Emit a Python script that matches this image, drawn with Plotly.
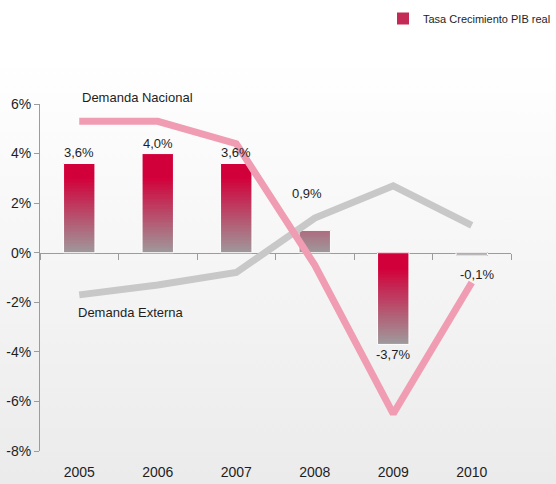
import base64

import plotly.graph_objects as go

# --- data --------------------------------------------------------------
YEARS = ["2005", "2006", "2007", "2008", "2009", "2010"]
PIB = [3.6, 4.0, 3.6, 0.9, -3.7, -0.1]             # Tasa Crecimiento PIB real
NACIONAL = [5.3, 5.3, 4.4, -0.5, -6.5, -1.2]       # Demanda Nacional
EXTERNA = [-1.7, -1.3, -0.8, 1.4, 2.7, 1.1]        # Demanda Externa
Y_TICKS = [-8, -6, -4, -2, 0, 2, 4, 6]

# --- style -------------------------------------------------------------
FONT = "Liberation Sans, Arial, sans-serif"
TEXT = "#1e1e1e"
AXIS = "#9c9c9c"
RED = (210, 0, 58)
GREY = (158, 154, 156)
PINK = "#f09cb2"
LGREY = "#c8c8c8"
N_SEG = 60          # slices used to fake the vertical gradient of each bar
RED_SPAN = 3.05     # units above the bar's low end where it is fully red
# per-label nudges (px) so that the value labels dodge the lines
LABEL_NUDGE = [(0, 0), (0, 0), (0, 0), (-8, 26), (0, 0), (5, -9)]

W, H = 556, 484
ML, MR, MT, MB = 40, 45, 104, 33
PW, PH = W - ML - MR, H - MT - MB


def mix(t):
    t = max(0.0, min(1.0, t))
    r, g, b = (round(GREY[i] + (RED[i] - GREY[i]) * t) for i in range(3))
    return f"rgb({r},{g},{b})"


def fmt(v):
    return f"{v:.1f}".replace(".", ",") + "%"


xs = list(range(len(YEARS)))
fig = go.Figure()

# gradient bars: stacked slices, coloured by height above the bar's low end
for k in range(N_SEG):
    bases, heights, colors = [], [], []
    for v in PIB:
        lo = min(0.0, v)
        b0 = v * k / N_SEG
        b1 = v * (k + 1) / N_SEG
        mid = (b0 + b1) / 2
        bases.append(b0)
        heights.append(b1 - b0)
        colors.append(mix((mid - lo) / RED_SPAN))
    fig.add_trace(go.Bar(
        x=xs, y=heights, base=bases, width=0.4,
        marker=dict(color=colors, line=dict(width=0)),
        showlegend=(k == int(N_SEG * 0.6)),
        name="Tasa Crecimiento PIB real", hoverinfo="skip",
    ))

# thin white outline around each bar
fig.add_trace(go.Bar(
    x=xs, y=PIB, base=0, width=0.4, showlegend=False, hoverinfo="skip",
    marker=dict(color="rgba(0,0,0,0)", line=dict(color="white", width=1)),
))

# lines on the overlaid axis so they sit above the bars
fig.add_trace(go.Scatter(x=xs, y=EXTERNA, mode="lines", xaxis="x2",
                         line=dict(color=LGREY, width=7), showlegend=False))
fig.add_trace(go.Scatter(x=xs, y=NACIONAL, mode="lines", xaxis="x2",
                         line=dict(color=PINK, width=7), showlegend=False))

# value labels
for x, v, (dx, dy) in zip(xs, PIB, LABEL_NUDGE):
    up = v >= 0
    fig.add_annotation(x=x, y=v, text=fmt(v), showarrow=False,
                       yanchor="bottom" if up else "top",
                       xshift=dx, yshift=(1 if up else -1) + dy,
                       font=dict(size=13, color=TEXT))

fig.add_annotation(x=0, xref="x", y=1 + 6 / PH, yref="paper",
                   text="Demanda Nacional", showarrow=False,
                   xanchor="left", yanchor="middle", xshift=1,
                   font=dict(size=13, color=TEXT))
fig.add_annotation(x=0, y=-2.4, text="Demanda Externa", showarrow=False,
                   xanchor="left", yanchor="middle", xshift=-3,
                   font=dict(size=13, color=TEXT))

# soft white-to-grey page background
svg = (f'<svg xmlns="http://www.w3.org/2000/svg" width="{W}" height="{H}">'
       '<defs><linearGradient id="g" x1="0" y1="0" x2="0" y2="1">'
       '<stop offset="0.12" stop-color="#ffffff"/>'
       '<stop offset="1" stop-color="#ebebeb"/></linearGradient></defs>'
       f'<rect width="{W}" height="{H}" fill="url(#g)"/></svg>')
fig.add_layout_image(
    source="data:image/svg+xml;base64," + base64.b64encode(svg.encode()).decode(),
    xref="paper", yref="paper", x=-ML / PW, y=1 + MT / PH,
    sizex=W / PW, sizey=H / PH, sizing="stretch", layer="below",
    xanchor="left", yanchor="top",
)

n = len(YEARS)
fig.update_layout(
    width=W, height=H, barmode="overlay",
    margin=dict(l=ML, r=MR, t=MT, b=MB, autoexpand=False),
    paper_bgcolor="white", plot_bgcolor="rgba(0,0,0,0)",
    font=dict(family=FONT, size=14, color=TEXT),
    legend=dict(x=1 + MR / PW, y=1 + (MT - 4) / PH,
                xanchor="right", yanchor="top", bgcolor="rgba(0,0,0,0)",
                font=dict(size=11, color=TEXT)),
    xaxis=dict(range=[-0.5, n - 0.5], anchor="free", position=8 / 14,
               tickvals=[i - 0.5 for i in range(n + 1)], ticks="outside",
               ticklen=6, tickcolor=AXIS, showline=True, linecolor=AXIS,
               showticklabels=False, showgrid=False, zeroline=False,
               layer="below traces"),
    xaxis2=dict(overlaying="x", matches="x", anchor="y", side="bottom",
                tickvals=xs, ticktext=YEARS, ticks="outside", ticklen=8,
                tickcolor="rgba(0,0,0,0)", showline=False, showgrid=False,
                zeroline=False, tickfont=dict(size=14)),
    yaxis=dict(range=[-8, 6], tickvals=Y_TICKS,
               ticktext=[f"{t}%" for t in Y_TICKS], ticks="outside",
               ticklen=5, tickcolor=AXIS, showline=True, linecolor=AXIS,
               showgrid=False, zeroline=False, tickfont=dict(size=14)),
)

# the page body has a default 8px margin; drop it so the chart sits at 0,0
fig.write_html("out.html", config={"displayModeBar": False},
               post_script="document.body.style.margin='0';")
